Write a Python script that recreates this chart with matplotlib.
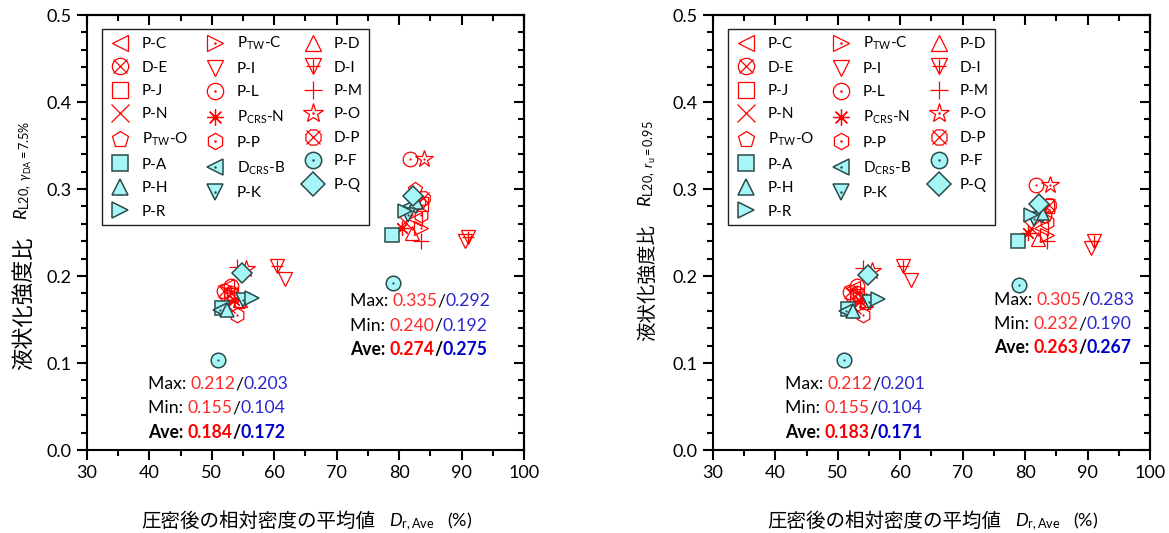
import matplotlib
matplotlib.use("Agg")
import matplotlib.pyplot as plt
from matplotlib.lines import Line2D
from matplotlib.legend_handler import HandlerTuple
from matplotlib.ticker import MultipleLocator, FormatStrFormatter

plt.rcParams['font.family'] = ['Lato', 'Noto Sans CJK JP', 'DejaVu Sans']
plt.rcParams['mathtext.fontset'] = 'custom'
plt.rcParams['mathtext.rm'] = 'Lato'
plt.rcParams['mathtext.it'] = 'Lato:italic'
plt.rcParams['mathtext.bf'] = 'Lato:bold'
plt.rcParams['mathtext.fallback'] = 'stixsans'

CJK = ['Noto Sans CJK JP', 'DejaVu Sans']

# ---- series (legend order, row by row) ----
series_names = ['P-C', 'P$_{\\mathrm{TW}}$-C', 'P-D',
                'D-E', 'P-I', 'D-I',
                'P-J', 'P-L', 'P-M',
                'P-N', 'P$_{\\mathrm{CRS}}$-N', 'P-O',
                'P$_{\\mathrm{TW}}$-O', 'P-P', 'D-P',
                'P-A', 'D$_{\\mathrm{CRS}}$-B', 'P-F',
                'P-H', 'P-K', 'P-Q',
                'P-R']

# relative density after consolidation (%), loose / dense groups
dr_loose = [52.5, 53.5, 54.5, 52.0, 61.7, 60.5, 53.0, 53.0, 54.0, 52.5, 53.5,
            55.5, 54.5, 54.0, 53.0, 51.6, 51.3, 51.0, 52.4, 55.0, 54.8, 56.4]
dr_dense = [82.5, 83.5, 82.0, 83.0, 90.5, 91.0, 83.5, 81.8, 83.5, 81.0, 80.5,
            84.0, 82.5, 83.5, 83.8, 78.9, 81.8, 79.0, 82.7, 81.5, 82.3, 81.0]

# liquefaction strength ratio, DA = 7.5 % criterion
rl_da_loose = [0.188, 0.178, 0.173, 0.183, 0.196, 0.212, 0.178, 0.189, 0.210,
               0.167, 0.172, 0.208, 0.170, 0.155, 0.181,
               0.163, 0.161, 0.104, 0.161, 0.172, 0.203, 0.175]
rl_da_dense = [0.265, 0.255, 0.250, 0.285, 0.240, 0.245, 0.283, 0.335, 0.240,
               0.262, 0.255, 0.335, 0.300, 0.270, 0.290,
               0.247, 0.280, 0.192, 0.285, 0.270, 0.292, 0.275]

# liquefaction strength ratio, ru = 0.95 criterion
rl_ru_loose = [0.186, 0.177, 0.172, 0.182, 0.195, 0.212, 0.177, 0.188, 0.209,
               0.166, 0.171, 0.206, 0.169, 0.155, 0.180,
               0.162, 0.160, 0.104, 0.160, 0.170, 0.201, 0.174]
rl_ru_dense = [0.255, 0.247, 0.242, 0.270, 0.232, 0.240, 0.280, 0.305, 0.240,
               0.255, 0.250, 0.305, 0.280, 0.262, 0.282,
               0.240, 0.270, 0.190, 0.272, 0.265, 0.283, 0.270]

stats_da = [('0.212', '0.203', '0.155', '0.104', '0.184', '0.172'),
            ('0.335', '0.292', '0.240', '0.192', '0.274', '0.275')]
stats_ru = [('0.212', '0.201', '0.155', '0.104', '0.183', '0.171'),
            ('0.305', '0.283', '0.232', '0.190', '0.263', '0.267')]

RED = '#FF0000'
CYAN_FACE = '#A6F6F8'
CYAN_EDGE = '#2B4A4A'
TXT_RED = '#FF2A2A'
TXT_BLUE = '#2A2ACC'

# marker style per series: (main marker, overlay marker or None, center dot, cyan?)
styles = [('<', None, False, False), ('>', None, True, False), ('^', None, False, False),
          ('o', 'x', False, False), ('v', None, False, False), ('v', '+', False, False),
          ('s', None, False, False), ('o', None, True, False), ('+', None, False, False),
          ('x', None, False, False), ((8, 2, 0), None, False, False), ('*', None, True, False),
          ('p', None, False, False), ('h', None, True, False), ((8, 0, 22.5), 'x', False, False),
          ('s', None, False, True), ('<', None, True, True), ('o', None, True, True),
          ('^', None, False, True), ('v', None, True, True), ('D', None, False, True),
          ('>', None, False, True)]

MS = 10.5


def marker_kwargs(style):
    mk, over, dot, cyan = style
    if cyan:
        base = dict(marker=mk, ms=MS, mfc=CYAN_FACE, mec=CYAN_EDGE, mew=1.1, ls='none')
    else:
        base = dict(marker=mk, ms=MS, mfc='none', mec=RED, mew=0.9, ls='none')
        if mk in ('+', 'x'):
            base['ms'] = MS * 1.05
        if mk == '*':
            base['ms'] = MS * 1.25
    extras = []
    if over is not None:
        extras.append(dict(marker=over, ms=MS * 0.85, mec=RED, mew=0.9, ls='none'))
    if dot:
        col = CYAN_EDGE if cyan else RED
        extras.append(dict(marker='o', ms=1.6, mfc=col, mec=col, mew=0, ls='none'))
    return base, extras


def draw_panel(ax, y_loose, y_dense, stats, ylabel_math, ylabel_size, stat_x, ylab_pos):
    handles = []
    for i, st in enumerate(styles):
        base, extras = marker_kwargs(st)
        xs = [dr_loose[i], dr_dense[i]]
        ys = [y_loose[i], y_dense[i]]
        ax.plot(xs, ys, **base, zorder=3)
        for ex in extras:
            ax.plot(xs, ys, **ex, zorder=3)
        h = [Line2D([], [], **base)] + [Line2D([], [], **ex) for ex in extras]
        handles.append(tuple(h))

    ax.set_xlim(30, 100)
    ax.set_ylim(0, 0.5)
    ax.xaxis.set_major_locator(MultipleLocator(10))
    ax.xaxis.set_minor_locator(MultipleLocator(5))
    ax.yaxis.set_major_locator(MultipleLocator(0.1))
    ax.yaxis.set_minor_locator(MultipleLocator(0.02))
    ax.yaxis.set_major_formatter(FormatStrFormatter('%.1f'))
    for s in ax.spines.values():
        s.set_linewidth(1.5)
    ax.tick_params(which='both', direction='out', width=1.5, labelsize=13,
                   top=False, right=False)
    ax.tick_params(which='major', length=7, pad=4)
    ax.tick_params(which='minor', length=4)
    # mirrored inward ticks on the top and right edges
    sec_x = ax.secondary_xaxis('top')
    sec_x.xaxis.set_major_locator(MultipleLocator(10))
    sec_x.xaxis.set_minor_locator(MultipleLocator(5))
    sec_x.tick_params(which='both', direction='in', width=1.5, labeltop=False)
    sec_x.tick_params(which='major', length=7)
    sec_x.tick_params(which='minor', length=4)
    sec_x.spines['top'].set_linewidth(1.5)
    sec_y = ax.secondary_yaxis('right')
    sec_y.yaxis.set_major_locator(MultipleLocator(0.1))
    sec_y.yaxis.set_minor_locator(MultipleLocator(0.02))
    sec_y.tick_params(which='both', direction='in', width=1.5, labelright=False)
    sec_y.tick_params(which='major', length=7)
    sec_y.tick_params(which='minor', length=4)
    sec_y.spines['right'].set_linewidth(1.5)

    # legend: entries filled column-wise, so reorder row-wise list
    order = list(range(0, 22, 3)) + list(range(1, 22, 3)) + list(range(2, 22, 3))
    leg = ax.legend([handles[k] for k in order], [series_names[k] for k in order],
                    handler_map={tuple: HandlerTuple(ndivide=1, pad=0)},
                    ncol=3, loc='upper left', bbox_to_anchor=(0.034, 0.968),
                    fontsize=11, frameon=True, fancybox=False, edgecolor='#222222',
                    framealpha=1, borderaxespad=0, labelspacing=0.62,
                    handlelength=1.6, handletextpad=0.6, columnspacing=1.0,
                    borderpad=0.4, markerscale=1.12)
    leg.get_frame().set_linewidth(1.0)

    # statistics (red series / cyan series)
    for (mx_r, mx_c, mn_r, mn_c, av_r, av_c), (x0, y0) in zip(stats, stat_x):
        rows = [([('Max: ', 'black', 'normal'), (mx_r, TXT_RED, 'normal'),
                  ('/', 'black', 'normal'), (mx_c, TXT_BLUE, 'normal')], y0),
                ([('Min: ', 'black', 'normal'), (mn_r, TXT_RED, 'normal'),
                  ('/', 'black', 'normal'), (mn_c, TXT_BLUE, 'normal')], y0 - 0.028),
                ([('Ave: ', 'black', 'bold'), (av_r, '#FF0000', 'bold'),
                  ('/', 'black', 'bold'), (av_c, '#0000CC', 'bold')], y0 - 0.056)]
        for parts, yy in rows:
            t = ax.text(x0, yy, parts[0][0], color=parts[0][1], fontweight=parts[0][2],
                        fontsize=12.7, va='baseline', ha='left')
            for s, c, w in parts[1:]:
                t = ax.annotate(s, xy=(1, 0), xycoords=t, va='bottom', ha='left',
                                color=c, fontweight=w, fontsize=12.7)

    # y label: Japanese text, then the symbol continuing upward
    yl = ax.text(ylab_pos[0], ylab_pos[1], '液状化強度比', transform=ax.transAxes,
                 rotation=90, ha='center', va='top', fontsize=ylabel_size, family=CJK)
    ax.annotate(ylabel_math, xy=(0.5, 1), xycoords=yl, xytext=(0, 12),
                textcoords='offset points', rotation=90, ha='center', va='bottom',
                fontsize=13)

    # x label
    xl = ax.text(0.659, -0.165, '圧密後の相対密度の平均値', transform=ax.transAxes,
                 ha='right', va='center', fontsize=14, family=CJK)
    ax.annotate('$D_{\\mathrm{r,Ave}}$   (%)', xy=(1, 0.5), xycoords=xl,
                xytext=(10, 0), textcoords='offset points', ha='left', va='center',
                fontsize=13)


fig = plt.figure(figsize=(11.69, 5.33), dpi=100)
ax1 = fig.add_axes([0.0744, 0.1557, 0.3738, 0.8161])
ax2 = fig.add_axes([0.6099, 0.1557, 0.3738, 0.8161])

draw_panel(ax1, rl_da_loose, rl_da_dense, stats_da,
           '$R_{\\mathrm{L20},\\ \\gamma_{\\mathrm{DA}}\\mathrm{=7.5\\%}}$', 16,
           [(39.8, 0.070), (72.1, 0.165)], (-0.145, 0.49))
draw_panel(ax2, rl_ru_loose, rl_ru_dense, stats_ru,
           '$R_{\\mathrm{L20,}\\ r_{\\mathrm{u}}\\mathrm{=0.95}}$', 14,
           [(41.5, 0.070), (75.0, 0.167)], (-0.15, 0.52))

fig.savefig('out.png', dpi=100)
